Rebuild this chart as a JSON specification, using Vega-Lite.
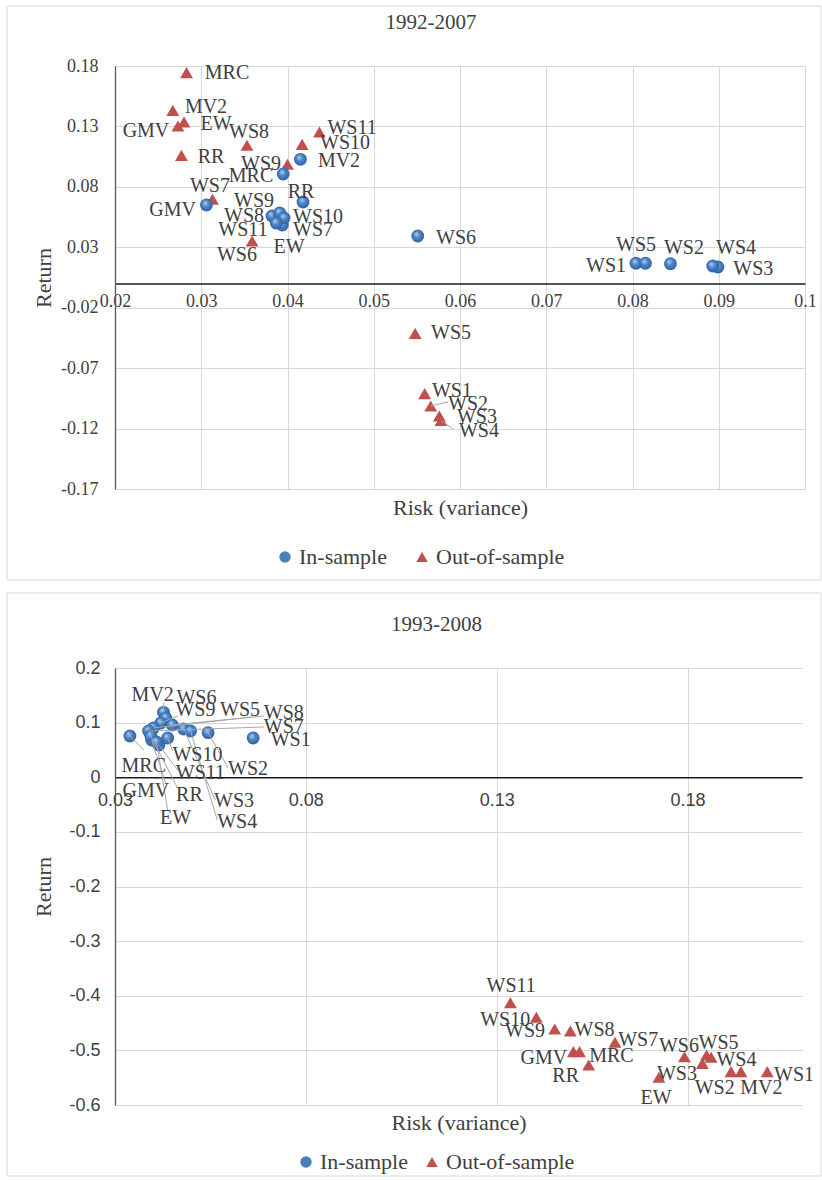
{
  "$schema": "https://vega.github.io/schema/vega-lite/v6.json",
  "background": "white",
  "padding": {"left": 6, "top": 5, "right": 0, "bottom": 0},
  "config": {
    "view": {"stroke": null},
    "locale": {"number": {"decimal": ".", "thousands": ",", "grouping": [3], "currency": ["$", ""], "minus": "-"}},
    "axis": {
      "ticks": false,
      "grid": true,
      "gridColor": "#d9d9d9",
      "gridWidth": 1,
      "labelColor": "#404040",
      "titleColor": "#404040",
      "titleFont": "Liberation Serif, Times New Roman, serif",
      "titleFontWeight": "normal",
      "titleFontSize": 22,
      "labelOverlap": false,
      "labelFlush": false,
      "labelBound": false
    },
    "legend": {
      "orient": "none",
      "direction": "horizontal",
      "title": null,
      "padding": 0,
      "labelFont": "Liberation Serif, Times New Roman, serif",
      "labelFontSize": 22,
      "labelColor": "#404040",
      "labelOffset": 3,
      "symbolSize": 130,
      "symbolStrokeWidth": 0
    },
    "title": {"font": "Liberation Serif, Times New Roman, serif", "fontSize": 21, "fontWeight": "normal", "color": "#404040", "anchor": "middle", "frame": "group", "baseline": "middle"}
  },
  "datasets": {
    "p1992": [
      {"sample": "In-sample", "name": "GMV", "risk": 0.0306, "ret": 0.0650, "lx": 0.02667, "ly": 0.0609},
      {"sample": "In-sample", "name": "MRC", "risk": 0.0395, "ret": 0.0906, "lx": 0.03577, "ly": 0.0890},
      {"sample": "In-sample", "name": "MV2", "risk": 0.0415, "ret": 0.1028, "lx": 0.04597, "ly": 0.1014},
      {"sample": "In-sample", "name": "RR", "risk": 0.0418, "ret": 0.0675, "lx": 0.04157, "ly": 0.0757},
      {"sample": "In-sample", "name": "EW", "risk": 0.0389, "ret": 0.0526, "lx": 0.04017, "ly": 0.0302},
      {"sample": "In-sample", "name": "WS1", "risk": 0.0804, "ret": 0.0168, "lx": 0.07693, "ly": 0.0149},
      {"sample": "In-sample", "name": "WS2", "risk": 0.0844, "ret": 0.0164, "lx": 0.08597, "ly": 0.0290},
      {"sample": "In-sample", "name": "WS3", "risk": 0.0899, "ret": 0.0137, "lx": 0.0940, "ly": 0.0124},
      {"sample": "In-sample", "name": "WS4", "risk": 0.0893, "ret": 0.0145, "lx": 0.0920, "ly": 0.0290},
      {"sample": "In-sample", "name": "WS5", "risk": 0.0815, "ret": 0.0168, "lx": 0.08041, "ly": 0.0315},
      {"sample": "In-sample", "name": "WS6", "risk": 0.0551, "ret": 0.0393, "lx": 0.05954, "ly": 0.0373},
      {"sample": "In-sample", "name": "WS7", "risk": 0.0394, "ret": 0.0484, "lx": 0.04296, "ly": 0.0439},
      {"sample": "In-sample", "name": "WS8", "risk": 0.0382, "ret": 0.0559, "lx": 0.03496, "ly": 0.0563},
      {"sample": "In-sample", "name": "WS9", "risk": 0.0391, "ret": 0.0584, "lx": 0.03612, "ly": 0.0679},
      {"sample": "In-sample", "name": "WS10", "risk": 0.0396, "ret": 0.0542, "lx": 0.04354, "ly": 0.0551},
      {"sample": "In-sample", "name": "WS11", "risk": 0.0387, "ret": 0.0501, "lx": 0.03484, "ly": 0.0439},
      {"sample": "Out-of-sample", "name": "GMV", "risk": 0.0273, "ret": 0.1304, "lx": 0.02359, "ly": 0.1262},
      {"sample": "Out-of-sample", "name": "MRC", "risk": 0.0283, "ret": 0.1745, "lx": 0.03299, "ly": 0.1742},
      {"sample": "Out-of-sample", "name": "MV2", "risk": 0.0267, "ret": 0.1433, "lx": 0.03055, "ly": 0.1457},
      {"sample": "Out-of-sample", "name": "RR", "risk": 0.0277, "ret": 0.1061, "lx": 0.03113, "ly": 0.1051},
      {"sample": "Out-of-sample", "name": "EW", "risk": 0.0280, "ret": 0.1337, "lx": 0.03171, "ly": 0.1316},
      {"sample": "Out-of-sample", "name": "WS1", "risk": 0.0559, "ret": -0.0911, "lx": 0.05907, "ly": -0.0885},
      {"sample": "Out-of-sample", "name": "WS2", "risk": 0.0566, "ret": -0.1013, "lx": 0.06093, "ly": -0.0993, "ex": 0.05861, "ey": -0.0980},
      {"sample": "Out-of-sample", "name": "WS3", "risk": 0.0576, "ret": -0.1096, "lx": 0.06197, "ly": -0.1102},
      {"sample": "Out-of-sample", "name": "WS4", "risk": 0.0578, "ret": -0.1132, "lx": 0.0622, "ly": -0.1224, "ex": 0.05919, "ey": -0.1203},
      {"sample": "Out-of-sample", "name": "WS5", "risk": 0.0548, "ret": -0.0412, "lx": 0.05896, "ly": -0.0413},
      {"sample": "Out-of-sample", "name": "WS6", "risk": 0.0359, "ret": 0.0352, "lx": 0.03414, "ly": 0.0236},
      {"sample": "Out-of-sample", "name": "WS7", "risk": 0.0313, "ret": 0.0697, "lx": 0.03101, "ly": 0.0803},
      {"sample": "Out-of-sample", "name": "WS8", "risk": 0.0353, "ret": 0.1144, "lx": 0.03554, "ly": 0.1258},
      {"sample": "Out-of-sample", "name": "WS9", "risk": 0.0400, "ret": 0.0987, "lx": 0.03693, "ly": 0.0993},
      {"sample": "Out-of-sample", "name": "WS10", "risk": 0.0417, "ret": 0.1152, "lx": 0.04667, "ly": 0.1159},
      {"sample": "Out-of-sample", "name": "WS11", "risk": 0.0437, "ret": 0.1254, "lx": 0.04748, "ly": 0.1287}
    ],
    "p1993": [
      {"sample": "In-sample", "name": "MV2", "risk": 0.0427, "ret": 0.1189, "lx": 0.03988, "ly": 0.1506, "ex": 0.04275, "ey": 0.1359},
      {"sample": "In-sample", "name": "WS6", "risk": 0.0433, "ret": 0.1085, "lx": 0.05133, "ly": 0.1442},
      {"sample": "In-sample", "name": "WS9", "risk": 0.0420, "ret": 0.0993, "lx": 0.05107, "ly": 0.1222, "ex": 0.04639, "ey": 0.1121},
      {"sample": "In-sample", "name": "WS5", "risk": 0.0401, "ret": 0.0902, "lx": 0.06278, "ly": 0.1240, "ex": 0.0659, "ey": 0.1103},
      {"sample": "In-sample", "name": "WS8", "risk": 0.0450, "ret": 0.0957, "lx": 0.07422, "ly": 0.1185, "ex": 0.06902, "ey": 0.1121},
      {"sample": "In-sample", "name": "WS7", "risk": 0.0388, "ret": 0.0847, "lx": 0.07422, "ly": 0.0911, "ex": 0.06902, "ey": 0.0920},
      {"sample": "In-sample", "name": "WS1", "risk": 0.0662, "ret": 0.0719, "lx": 0.07604, "ly": 0.0673},
      {"sample": "In-sample", "name": "WS10", "risk": 0.0438, "ret": 0.0719, "lx": 0.05159, "ly": 0.0407, "ex": 0.04509, "ey": 0.0481},
      {"sample": "In-sample", "name": "WS2", "risk": 0.0544, "ret": 0.0816, "lx": 0.06486, "ly": 0.0142, "ex": 0.05965, "ey": 0.0169},
      {"sample": "In-sample", "name": "MRC", "risk": 0.0339, "ret": 0.0755, "lx": 0.03754, "ly": 0.0215, "ex": 0.03754, "ey": 0.0499},
      {"sample": "In-sample", "name": "WS11", "risk": 0.0415, "ret": 0.0590, "lx": 0.05237, "ly": 0.0069, "ex": 0.04639, "ey": 0.0133},
      {"sample": "In-sample", "name": "GMV", "risk": 0.0396, "ret": 0.0682, "lx": 0.03806, "ly": -0.0243, "ex": 0.04327, "ey": -0.0105},
      {"sample": "In-sample", "name": "RR", "risk": 0.0394, "ret": 0.0755, "lx": 0.04951, "ly": -0.0334, "ex": 0.04639, "ey": -0.0197},
      {"sample": "In-sample", "name": "WS3", "risk": 0.0480, "ret": 0.0883, "lx": 0.06121, "ly": -0.0426, "ex": 0.05627, "ey": -0.0416},
      {"sample": "In-sample", "name": "EW", "risk": 0.0409, "ret": 0.0645, "lx": 0.04587, "ly": -0.0737, "ex": 0.04379, "ey": -0.0600},
      {"sample": "In-sample", "name": "WS4", "risk": 0.0498, "ret": 0.0847, "lx": 0.0620, "ly": -0.0828, "ex": 0.05679, "ey": -0.0783},
      {"sample": "Out-of-sample", "name": "WS11", "risk": 0.1336, "ret": -0.4127, "lx": 0.13379, "ly": -0.3822},
      {"sample": "Out-of-sample", "name": "WS10", "risk": 0.1404, "ret": -0.4394, "lx": 0.13223, "ly": -0.4444},
      {"sample": "Out-of-sample", "name": "WS9", "risk": 0.1452, "ret": -0.4609, "lx": 0.13743, "ly": -0.4654},
      {"sample": "Out-of-sample", "name": "WS8", "risk": 0.1493, "ret": -0.4645, "lx": 0.15564, "ly": -0.4636},
      {"sample": "Out-of-sample", "name": "WS7", "risk": 0.1610, "ret": -0.4852, "lx": 0.16708, "ly": -0.4801},
      {"sample": "Out-of-sample", "name": "GMV", "risk": 0.1501, "ret": -0.5024, "lx": 0.14237, "ly": -0.5131},
      {"sample": "Out-of-sample", "name": "MRC", "risk": 0.1517, "ret": -0.5024, "lx": 0.16006, "ly": -0.5094},
      {"sample": "Out-of-sample", "name": "RR", "risk": 0.1541, "ret": -0.5268, "lx": 0.14809, "ly": -0.5478},
      {"sample": "Out-of-sample", "name": "EW", "risk": 0.1725, "ret": -0.5493, "lx": 0.17176, "ly": -0.5863},
      {"sample": "Out-of-sample", "name": "WS6", "risk": 0.1792, "ret": -0.5116, "lx": 0.17775, "ly": -0.4911},
      {"sample": "Out-of-sample", "name": "WS5", "risk": 0.1850, "ret": -0.5085, "lx": 0.18815, "ly": -0.4856},
      {"sample": "Out-of-sample", "name": "WS4", "risk": 0.1862, "ret": -0.5127, "lx": 0.19283, "ly": -0.5185},
      {"sample": "Out-of-sample", "name": "WS3", "risk": 0.1839, "ret": -0.5237, "lx": 0.17723, "ly": -0.5433},
      {"sample": "Out-of-sample", "name": "WS2", "risk": 0.1914, "ret": -0.5390, "lx": 0.18711, "ly": -0.5680},
      {"sample": "Out-of-sample", "name": "MV2", "risk": 0.1940, "ret": -0.5390, "lx": 0.19934, "ly": -0.5680},
      {"sample": "Out-of-sample", "name": "WS1", "risk": 0.2009, "ret": -0.5390, "lx": 0.20792, "ly": -0.5442}
    ]
  },
  "concat": [
    {
      "width": 690,
      "height": 423,
      "title": {"text": "1992-2007", "offset": -27, "dx": -29},
      "data": {"name": "p1992"},
      "layer": [
        {
          "transform": [{"filter": "datum.sample === 'Out-of-sample'"}],
          "mark": {"type": "point", "filled": true, "size": 165, "opacity": 1, "strokeWidth": 0},
          "encoding": {
            "x": {
              "field": "risk", "type": "quantitative",
              "scale": {"domain": [0.02, 0.1], "nice": false, "zero": false},
              "axis": {
                "title": "Risk (variance)",
                "values": [0.02, 0.03, 0.04, 0.05, 0.06, 0.07, 0.08, 0.09, 0.1],
                "format": ".2~f",
                "offset": -205.5,
                "domainColor": "#1a1a1a",
                "domainWidth": 1.3,
                "labelPadding": 9,
                "labelFont": "Liberation Serif, Times New Roman, serif",
                "labelFontSize": 18,
                "titleY": 224,
                "titleBaseline": "middle"
              }
            },
            "y": {
              "field": "ret", "type": "quantitative",
              "scale": {"domain": [-0.17, 0.18], "nice": false, "zero": false},
              "axis": {
                "title": "Return",
                "values": [-0.17, -0.12, -0.07, -0.02, 0.03, 0.08, 0.13, 0.18],
                "format": ".2f",
                "domainColor": "#595959",
                "domainWidth": 1.3,
                "labelPadding": 17,
                "labelFont": "Liberation Serif, Times New Roman, serif",
                "labelFontSize": 18,
                "titleX": -72,
                "titleBaseline": "middle"
              }
            },
            "shape": {
              "field": "sample", "type": "nominal",
              "scale": {"domain": ["In-sample", "Out-of-sample"], "range": ["circle", "triangle-up"]},
              "legend": {"legendX": 159, "legendY": 480, "columnPadding": 24}
            },
            "color": {
              "field": "sample", "type": "nominal",
              "scale": {"domain": ["In-sample", "Out-of-sample"], "range": ["#4a7ebb", "#c0504d"]},
              "legend": {"legendX": 159, "legendY": 480, "columnPadding": 24}
            }
          }
        },
        {
          "transform": [{"filter": "datum.sample === 'In-sample'"}],
          "mark": {
            "type": "point", "filled": true, "shape": "circle", "size": 165, "opacity": 1, "strokeWidth": 0,
            "fill": {"gradient": "radial", "x1": 0.38, "y1": 0.32, "r1": 0, "x2": 0.5, "y2": 0.5, "r2": 0.55,
                     "stops": [{"offset": 0, "color": "#b9d3f2"}, {"offset": 0.45, "color": "#4f86c8"}, {"offset": 1, "color": "#2b5c9e"}]}
          },
          "encoding": {
            "x": {"field": "risk", "type": "quantitative"},
            "y": {"field": "ret", "type": "quantitative"}
          }
        },
        {
          "data": {"values": [{}]},
          "mark": {"type": "rect", "fillOpacity": 0, "stroke": "#d9d9d9", "strokeWidth": 1},
          "encoding": {
            "x": {"datum": 0.007478, "type": "quantitative"},
            "x2": {"datum": 0.101855},
            "y": {"datum": 0.229644, "type": "quantitative"},
            "y2": {"datum": -0.245294}
          }
        },
        {
          "transform": [{"filter": "isValid(datum.ex)"}],
          "mark": {"type": "rule", "color": "#a6a6a6", "strokeWidth": 1},
          "encoding": {
            "x": {"field": "risk", "type": "quantitative"},
            "y": {"field": "ret", "type": "quantitative"},
            "x2": {"field": "ex"},
            "y2": {"field": "ey"}
          }
        },
        {
          "mark": {"type": "text", "align": "center", "baseline": "middle", "font": "Liberation Serif, Times New Roman, serif", "fontSize": 20, "color": "#404040"},
          "encoding": {
            "x": {"field": "lx", "type": "quantitative"},
            "y": {"field": "ly", "type": "quantitative"},
            "text": {"field": "name"}
          }
        }
      ]
    },
    {
      "width": 687,
      "height": 437,
      "title": {"text": "1993-2008", "offset": -43, "dx": -22},
      "data": {"name": "p1993"},
      "layer": [
        {
          "transform": [{"filter": "datum.sample === 'Out-of-sample'"}],
          "mark": {"type": "point", "filled": true, "size": 165, "opacity": 1, "strokeWidth": 0},
          "encoding": {
            "x": {
              "field": "risk", "type": "quantitative",
              "scale": {"domain": [0.03, 0.21], "nice": false, "zero": false},
              "axis": {
                "title": "Risk (variance)",
                "values": [0.03, 0.08, 0.13, 0.18],
                "format": ".2~f",
                "offset": -327.75,
                "domainColor": "#1a1a1a",
                "domainWidth": 1.3,
                "labelPadding": 14,
                "labelFont": "Liberation Sans Narrow, Liberation Sans, Arial, sans-serif",
                "labelFontSize": 18,
                "titleY": 345,
                "titleBaseline": "middle"
              }
            },
            "y": {
              "field": "ret", "type": "quantitative",
              "scale": {"domain": [-0.6, 0.2], "nice": false, "zero": false},
              "axis": {
                "title": "Return",
                "values": [-0.6, -0.5, -0.4, -0.3, -0.2, -0.1, 0, 0.1, 0.2],
                "format": ".1~f",
                "domainColor": "#595959",
                "domainWidth": 1.3,
                "labelPadding": 15,
                "labelFont": "Liberation Sans Narrow, Liberation Sans, Arial, sans-serif",
                "labelFontSize": 18,
                "titleX": -72,
                "titleBaseline": "middle"
              }
            },
            "shape": {
              "field": "sample", "type": "nominal",
              "scale": {"domain": ["In-sample", "Out-of-sample"], "range": ["circle", "triangle-up"]},
              "legend": {"legendX": 180, "legendY": 483, "columnPadding": 13}
            },
            "color": {
              "field": "sample", "type": "nominal",
              "scale": {"domain": ["In-sample", "Out-of-sample"], "range": ["#4a7ebb", "#c0504d"]},
              "legend": {"legendX": 180, "legendY": 483, "columnPadding": 13}
            }
          }
        },
        {
          "transform": [{"filter": "datum.sample === 'In-sample'"}],
          "mark": {
            "type": "point", "filled": true, "shape": "circle", "size": 165, "opacity": 1, "strokeWidth": 0,
            "fill": {"gradient": "radial", "x1": 0.38, "y1": 0.32, "r1": 0, "x2": 0.5, "y2": 0.5, "r2": 0.55,
                     "stops": [{"offset": 0, "color": "#b9d3f2"}, {"offset": 0.45, "color": "#4f86c8"}, {"offset": 1, "color": "#2b5c9e"}]}
          },
          "encoding": {
            "x": {"field": "risk", "type": "quantitative"},
            "y": {"field": "ret", "type": "quantitative"}
          }
        },
        {
          "data": {"values": [{}]},
          "mark": {"type": "rect", "fillOpacity": 0, "stroke": "#d9d9d9", "strokeWidth": 1},
          "encoding": {
            "x": {"datum": 0.0017, "type": "quantitative"},
            "x2": {"datum": 0.214978},
            "y": {"datum": 0.3373, "type": "quantitative"},
            "y2": {"datum": -0.72998}
          }
        },
        {
          "transform": [{"filter": "isValid(datum.ex)"}],
          "mark": {"type": "rule", "color": "#a6a6a6", "strokeWidth": 1},
          "encoding": {
            "x": {"field": "risk", "type": "quantitative"},
            "y": {"field": "ret", "type": "quantitative"},
            "x2": {"field": "ex"},
            "y2": {"field": "ey"}
          }
        },
        {
          "mark": {"type": "text", "align": "center", "baseline": "middle", "font": "Liberation Serif, Times New Roman, serif", "fontSize": 20, "color": "#404040"},
          "encoding": {
            "x": {"field": "lx", "type": "quantitative"},
            "y": {"field": "ly", "type": "quantitative"},
            "text": {"field": "name"}
          }
        }
      ]
    }
  ],
  "columns": 1,
  "align": "none",
  "spacing": 11,
  "resolve": {
    "scale": {"color": "independent", "shape": "independent", "x": "independent", "y": "independent"},
    "legend": {"color": "independent", "shape": "independent"}
  }
}
